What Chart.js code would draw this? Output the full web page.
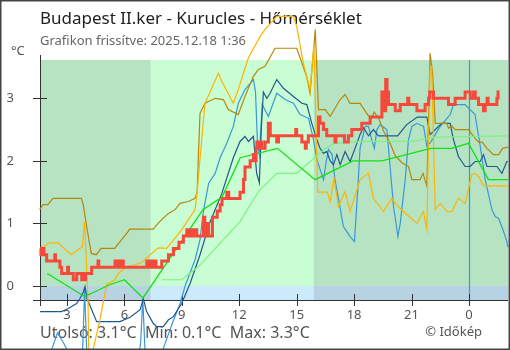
<!DOCTYPE html>
<html>
<head>
  <meta charset="utf-8">
  <title>Budapest II.ker - Kurucles - Hőmérséklet</title>
  <script src="https://cdn.jsdelivr.net/npm/chart.js"></script>
  <style>
    body { margin: 0; background: #fff; }
    canvas { display: block; }
  </style>
</head>
<body>
  <canvas id="tempChart" width="510" height="350"></canvas>
  <script>
    // hours since the previous midnight (24+ = next day), temperature in °C
    const xTicks = [3, 6, 9, 12, 15, 18, 21, 24];
    const yTicks = [0, 1, 2, 3];
    const sunrise = 7.38;
    const sunset = 15.88;
    const midnight = 24;

    // own station, 10-minute steps
    const kurucles = [
      [1.59,0.6],[1.64,0.5],[1.68,0.6],[1.72,0.5],[1.76,0.6],[1.80,0.5],[1.94,0.4],[2.36,0.5],[2.40,0.4],
      [2.63,0.3],[2.72,0.2],[3.03,0.3],[3.08,0.2],[3.33,0.1],[3.51,0.2],[3.77,0.1],[3.81,0.2],[3.85,0.1],
      [3.89,0.2],[3.93,0.1],[3.97,0.2],[4.29,0.3],[4.62,0.4],[4.66,0.3],[5.51,0.4],[5.55,0.3],[5.64,0.4],
      [5.68,0.3],[5.77,0.4],[5.81,0.3],[5.90,0.4],[5.94,0.3],[7.17,0.4],[7.30,0.3],[7.35,0.4],[7.40,0.3],
      [7.45,0.4],[7.50,0.3],[7.60,0.4],[7.65,0.3],[7.95,0.4],[8.30,0.5],[8.56,0.6],[8.85,0.7],[9.08,0.8],
      [9.26,0.9],[9.35,0.8],[9.40,0.9],[9.55,0.8],[9.62,0.9],[9.78,0.8],[10.13,1.1],[10.20,0.8],[10.30,1.0],
      [10.40,0.8],[10.60,1.1],[10.85,1.2],[11.00,1.3],[11.10,1.4],[11.35,1.5],[11.45,1.4],[12.04,1.5],
      [12.22,1.7],[12.30,1.9],[12.57,2.0],[12.74,2.1],[12.80,2.0],[12.88,2.2],[12.92,2.3],[12.96,2.2],
      [13.09,2.3],[13.18,2.2],[13.35,2.3],[13.52,2.6],[13.62,2.4],[13.96,2.3],[14.05,2.4],[14.95,2.5],
      [15.00,2.4],[15.27,2.3],[15.45,2.2],[15.50,2.3],[15.61,2.4],[16.14,2.7],[16.22,2.6],[16.40,2.5],
      [16.57,2.4],[17.00,2.3],[17.05,2.4],[17.50,2.3],[17.70,2.4],[17.88,2.5],[18.40,2.6],[18.84,2.7],
      [19.45,3.1],[19.59,2.8],[19.65,3.3],[19.72,3.1],[19.80,2.9],[20.15,2.8],[20.41,2.9],[20.80,3.0],
      [20.86,2.9],[21.28,2.8],[21.71,2.9],[21.89,3.0],[21.95,3.1],[22.15,3.0],[22.93,2.9],[23.28,3.0],
      [23.80,3.1],[24.07,3.0],[24.24,3.1],[24.33,3.0],[24.50,2.9],[24.76,2.8],[24.85,2.9],[24.95,3.0],
      [25.00,2.9],[25.46,3.0],[25.52,3.1],[25.60,3.1]
    ];

    // forecast
    const forecast = [
      [1.97,0.2],[3.92,-0.17],[5.23,0.02],[6.0,0.1],[6.97,-0.19],[10.1,1.22],[11.1,1.42],[12.05,2.05],
      [14.0,2.2],[15.96,1.7],[17.95,2.0],[19.45,2.0],[22.0,2.2],[23.1,2.2],[23.98,2.28],[25.02,1.7],[26.04,1.7]
    ];

    const forecastOld = [
      [7.95,0.1],[9.0,0.1],[9.87,0.31],[12.04,1.03],[13.0,1.51],[13.96,1.8],[15.0,1.8],[16.5,2.2],
      [17.0,2.28],[18.4,2.31],[21.0,2.31],[22.24,2.38],[26.04,2.4]
    ];

    const stationOrange = [
      [1.59,0.6],[2.1,0.69],[2.53,0.69],[3.22,0.5],[3.66,0.6],[3.8,0.62],[3.92,1.03],[4.1,-0.25],[4.15,-1.3],
      [4.72,-0.54],[5.07,0.02],[5.5,0.1],[5.68,0.2],[6.1,0.3],[6.88,0.37],[7.76,0.61],[8.21,0.6],[9.0,0.9],
      [9.69,1.22],[9.8,1.5],[10.04,2.34],[10.21,2.92],[10.91,3.4],[11.09,3.27],[11.69,2.92],[11.95,3.14],
      [12.47,3.64],[13.09,3.99],[13.35,4.1],[13.96,4.31],[14.83,4.31],[15.0,4.15],[15.35,3.56],[15.7,3.14],
      [15.9,3.85],[16.1,1.5],[16.6,1.5],[16.75,1.35],[16.95,1.72],[17.18,1.27],[17.53,1.51],[17.79,1.19],
      [18.31,1.7],[18.75,1.8],[19.01,1.4],[19.53,1.19],[19.97,1.4],[20.2,1.3],[20.58,1.19],[21.28,1.0],
      [21.62,1.19],[21.8,0.9],[21.9,2.5],[21.97,3.46],[22.05,3.5],[22.24,1.22],[22.5,1.32],[22.85,1.19],
      [23.1,1.19],[23.45,1.4],[23.8,1.32],[24.15,1.78],[24.32,1.8],[24.5,1.75],[24.76,1.6],[26.04,1.6]
    ];

    const stationBrown = [
      [1.57,1.22],[1.75,1.3],[2.0,1.3],[2.27,1.4],[3.75,1.4],[3.85,1.3],[4.01,0.98],[4.27,0.52],[4.53,0.5],
      [4.79,0.6],[5.49,0.6],[6.19,0.87],[6.27,0.91],[7.5,0.91],[7.76,1.0],[7.95,1.06],[8.3,1.16],[8.65,1.22],
      [8.91,1.32],[9.34,1.35],[9.69,1.4],[9.8,1.5],[9.87,2.12],[9.95,2.76],[10.21,2.92],[10.74,3.0],
      [11.17,2.98],[11.43,2.82],[11.95,2.74],[12.3,3.03],[12.74,3.35],[13.0,3.46],[13.35,3.51],[13.87,3.8],
      [15.0,3.8],[15.52,3.35],[15.7,3.08],[15.97,4.1],[16.14,2.82],[16.49,2.82],[16.75,2.71],[17.27,2.98],
      [17.53,3.06],[17.79,2.92],[18.31,2.92],[18.75,2.72],[18.92,2.68],[19.05,2.78],[19.3,2.67],[19.55,2.47],
      [19.88,2.28],[20.15,2.08],[20.5,1.97],[20.84,1.91],[21.02,1.7],[21.45,1.7],[21.6,1.8],[21.8,1.6],
      [21.97,3.72],[22.1,3.4],[22.24,2.6],[22.85,2.6],[22.93,2.52],[23.1,2.56],[23.28,2.5],[23.98,2.5],
      [24.32,2.36],[24.5,2.3],[24.7,2.3],[24.94,2.2],[25.28,2.1],[25.55,2.1],[25.76,2.2],[26.04,2.22]
    ];

    const stationNavy = [
      [1.59,-0.41],[2.72,-0.41],[3.07,-0.36],[3.5,-0.28],[3.68,-0.2],[3.85,-0.1],[3.94,-0.01],[4.05,-0.2],
      [4.29,-0.38],[4.55,-0.57],[5.77,-0.57],[6.3,-0.5],[6.82,-0.38],[6.99,-0.2],[7.15,-0.4],[7.51,-0.6],
      [7.69,-0.65],[8.03,-0.65],[8.3,-0.54],[8.56,-0.49],[8.99,-0.28],[9.43,0.04],[9.95,0.5],[10.47,1.02],
      [11.09,1.48],[11.69,2.05],[12.04,2.31],[12.3,2.39],[12.48,2.31],[12.74,2.39],[12.91,1.8],[13.05,1.65],
      [13.15,2.5],[13.26,3.1],[13.44,3.0],[13.61,3.08],[13.96,3.3],[14.31,3.16],[14.83,3.03],[15.27,2.92],
      [15.53,2.9],[15.79,2.6],[16.05,2.34],[16.22,2.2],[16.4,2.12],[16.57,2.15],[16.75,2.0],[16.92,1.94],
      [17.1,2.1],[17.27,1.94],[17.53,2.15],[17.79,1.99],[18.05,2.2],[18.31,2.42],[18.49,2.53],[18.75,2.4],
      [19.01,2.5],[19.27,2.4],[20.27,2.4],[20.75,2.58],[21.3,2.7],[21.8,2.7],[21.97,2.42],[22.41,2.55],
      [22.58,2.6],[23.02,2.6],[23.19,2.34],[23.45,2.07],[23.8,1.91],[24.06,1.91],[24.32,1.99],[24.59,1.99],
      [24.76,2.1],[24.94,1.91],[25.46,1.91],[25.72,1.8],[25.98,1.99],[26.04,1.99]
    ];

    const stationBlue = [
      [1.59,-1.6],[2.0,-1.2],[2.5,-0.75],[2.8,-0.9],[3.5,-1.3],[3.82,-1.0],[3.92,-0.05],[4.05,-1.2],
      [4.3,-1.8],[6.5,-1.8],[6.85,-0.9],[6.96,-0.21],[7.1,-1.2],[7.5,-1.8],[8.03,-1.0],[8.5,-0.6],
      [8.91,-0.28],[9.17,0.0],[9.69,0.42],[9.95,0.74],[10.13,1.2],[10.4,1.64],[10.74,1.8],[11.0,2.05],
      [11.35,2.28],[11.69,2.55],[11.95,2.92],[12.3,3.14],[12.74,3.3],[12.85,3.1],[12.95,2.3],[13.05,2.1],
      [13.2,2.9],[13.52,2.71],[13.96,3.08],[14.4,2.98],[14.83,2.92],[15.18,2.74],[15.62,2.68],[15.88,2.34],
      [16.05,2.02],[16.23,1.86],[16.4,1.7],[16.55,2.0],[16.66,2.18],[16.85,2.1],[17.0,1.7],[17.27,1.25],
      [17.44,0.95],[17.79,0.79],[18.02,0.71],[18.2,1.59],[18.31,2.2],[18.58,2.55],[18.75,2.55],[18.92,2.34],
      [19.06,2.2],[19.19,2.5],[19.36,2.58],[19.71,2.5],[19.88,1.91],[20.06,1.27],[20.29,0.79],[20.41,1.0],
      [20.67,1.7],[20.84,2.34],[21.02,2.55],[21.28,2.6],[21.63,2.55],[21.8,2.23],[22.0,2.3],[22.5,2.55],
      [22.85,2.68],[23.02,2.74],[23.19,2.9],[23.8,2.9],[24.06,2.82],[24.32,2.74],[24.59,2.23],[24.85,1.7],
      [25.2,1.22],[25.37,1.11],[25.55,1.08],[25.81,0.87],[25.98,0.71],[26.04,0.62]
    ];

    const toPoints = rows => rows.map(([h, t]) => ({ x: h, y: t }));

    const series = [
      { label: 'Kurucles', rows: kurucles, color: '#f4493b', width: 3, stepped: true },
      { label: 'Előrejelzés', rows: forecast, color: '#14e014', width: 1.3 },
      { label: 'Korábbi előrejelzés', rows: forecastOld, color: '#80f080', width: 1.2 },
      { label: 'Állomás 1', rows: stationOrange, color: '#ffb400', width: 1.2 },
      { label: 'Állomás 2', rows: stationBrown, color: '#b8860b', width: 1.2 },
      { label: 'Állomás 3', rows: stationNavy, color: '#1f5a8e', width: 1.2 },
      { label: 'Állomás 4', rows: stationBlue, color: '#3a97d8', width: 1.2 }
    ];

    // background bands, axes and all the texts around the plot
    const frame = {
      id: 'frame',
      beforeDatasetsDraw(chart) {
        const { ctx, chartArea: a, scales: { x, y } } = chart;
        const y0 = y.getPixelForValue(0);
        const xr = x.getPixelForValue(sunrise);
        const xs = x.getPixelForValue(sunset);
        ctx.save();
        const band = (x1, x2, top, bottom, color) => {
          ctx.fillStyle = color;
          ctx.fillRect(x1, top, x2 - x1, bottom - top);
        };
        band(a.left, xr, a.top, y0, '#b6e4c3');
        band(xr, xs, a.top, y0, '#c9fdd3');
        band(xs, a.right, a.top, y0, '#b6e4c3');
        band(a.left, xr, y0, a.bottom, '#b7d3e3');
        band(xr, xs, y0, a.bottom, '#cbeafc');
        band(xs, a.right, y0, a.bottom, '#b7d3e3');

        // day change marker
        const xm = Math.round(x.getPixelForValue(midnight)) + 0.5;
        ctx.strokeStyle = '#3a97d8';
        ctx.lineWidth = 1.2;
        ctx.beginPath();
        ctx.moveTo(xm, a.top);
        ctx.lineTo(xm, a.bottom + 6);
        ctx.stroke();

        // axes with crossing tick marks
        ctx.strokeStyle = '#333';
        ctx.lineWidth = 1;
        ctx.beginPath();
        ctx.moveTo(a.left + 0.5, a.top - 5);
        ctx.lineTo(a.left + 0.5, a.bottom + 6);
        ctx.moveTo(a.left - 7, a.bottom + 0.5);
        ctx.lineTo(a.right, a.bottom + 0.5);
        yTicks.forEach(v => {
          const py = Math.round(y.getPixelForValue(v)) + 0.5;
          ctx.moveTo(a.left - 7, py);
          ctx.lineTo(a.left + 7, py);
        });
        xTicks.forEach(v => {
          const px = Math.round(x.getPixelForValue(v)) + 0.5;
          ctx.moveTo(px, a.bottom - 6);
          ctx.lineTo(px, a.bottom + 6);
        });
        ctx.stroke();

        ctx.fillStyle = '#555';
        ctx.font = '13px "Noto Sans"';
        ctx.textAlign = 'center';
        ctx.textBaseline = 'alphabetic';
        xTicks.forEach(v => ctx.fillText(String(v % 24), x.getPixelForValue(v), 319));
        ctx.textAlign = 'right';
        ctx.textBaseline = 'middle';
        yTicks.forEach(v => ctx.fillText(String(v), 14, y.getPixelForValue(v)));
        ctx.textAlign = 'left';
        ctx.textBaseline = 'alphabetic';
        ctx.fillText('°C', 11, 55);

        ctx.fillStyle = '#222';
        ctx.font = '17px "Noto Sans"';
        ctx.fillText('Budapest II.ker - Kurucles - Hőmérséklet', 40, 24);
        ctx.fillStyle = '#666';
        ctx.font = '13px "Noto Sans"';
        ctx.fillText('Grafikon frissítve: 2025.12.18 1:36', 40, 45);

        const temps = kurucles.map(r => r[1]);
        const fmt = v => v.toFixed(1) + '°C';
        ctx.fillStyle = '#555';
        ctx.font = '16px "Noto Sans"';
        ctx.fillText('Utolsó: ' + fmt(temps[temps.length - 1]) + '  Min: ' + fmt(Math.min(...temps)) +
          '  Max: ' + fmt(Math.max(...temps)), 40, 338);
        ctx.font = '13px "Noto Sans"';
        ctx.textAlign = 'right';
        ctx.fillText('© Időkép', 482, 336);
        ctx.restore();
      },
      afterDraw(chart) {
        const { ctx, width, height } = chart;
        ctx.save();
        ctx.strokeStyle = '#444';
        ctx.lineWidth = 1.5;
        ctx.strokeRect(0.75, 0.75, width - 1.5, height - 1.5);
        ctx.restore();
      }
    };

    new Chart(document.getElementById('tempChart'), {
      type: 'line',
      data: {
        datasets: series.map(s => ({
          label: s.label,
          data: toPoints(s.rows),
          borderColor: s.color,
          borderWidth: s.width,
          stepped: s.stepped || false,
          pointRadius: 0,
          tension: 0,
          fill: false,
          clip: false
        }))
      },
      options: {
        responsive: false,
        animation: false,
        devicePixelRatio: 1,
        layout: { padding: { left: 40, right: 2, top: 60, bottom: 50 } },
        plugins: { legend: { display: false }, tooltip: { enabled: false } },
        scales: {
          x: { type: 'linear', display: false, min: 1.59, max: 26.04 },
          y: { type: 'linear', display: false, min: -0.224, max: 3.612 }
        }
      },
      plugins: [frame]
    });
  </script>
</body>
</html>
